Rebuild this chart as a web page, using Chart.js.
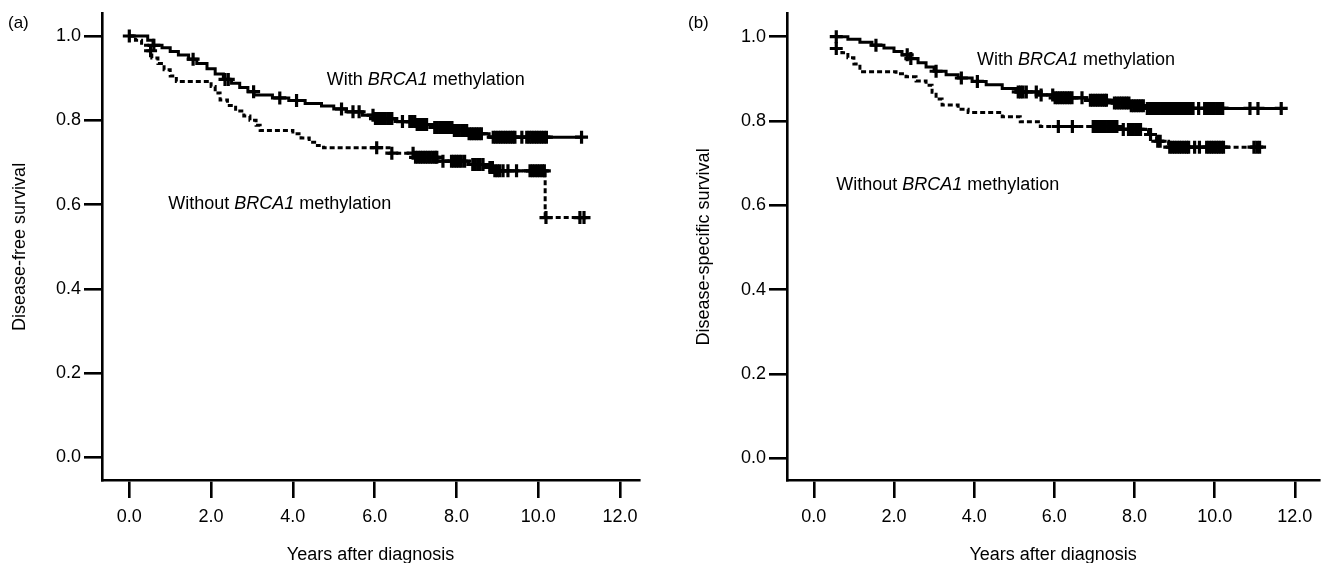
<!DOCTYPE html>
<html>
<head>
<meta charset="utf-8">
<script src="https://cdn.jsdelivr.net/npm/chart.js@4/dist/chart.umd.min.js"></script>
<style>
  html, body { margin: 0; padding: 0; background: #fff; }
  #wrap { position: relative; width: 1329px; height: 563px; overflow: hidden; background: #fff; }
  canvas { position: absolute; top: 0; }
  #ca { left: 0; }
  #cb { left: 664px; }
</style>
</head>
<body>
<div id="wrap">
  <canvas id="ca" width="664" height="563"></canvas>
  <canvas id="cb" width="665" height="563"></canvas>
</div>
<script>
// ---------- axis ticks ----------
const xTicks = [0, 2, 4, 6, 8, 10, 12];
const xTickLabels = ['0.0', '2.0', '4.0', '6.0', '8.0', '10.0', '12.0'];
const yTicks = [0, 0.2, 0.4, 0.6, 0.8, 1.0];
const yTickLabels = ['0.0', '0.2', '0.4', '0.6', '0.8', '1.0'];

// ---------- panel (a): disease-free survival ----------
const aWithTime = [0, 0.45, 0.58, 0.8, 1.0, 1.2, 1.45, 1.65, 1.9, 2.1, 2.3, 2.5, 2.7, 2.9, 3.05, 3.5, 3.9, 4.3, 4.7, 5.0, 5.3, 5.7, 6.0, 6.5, 7.0, 7.45, 7.9, 8.3, 8.8, 11.06];
const aWithSurv = [1.0, 0.99, 0.978, 0.972, 0.963, 0.955, 0.945, 0.935, 0.922, 0.91, 0.897, 0.888, 0.878, 0.868, 0.86, 0.853, 0.847, 0.84, 0.834, 0.827, 0.82, 0.812, 0.804, 0.797, 0.79, 0.783, 0.776, 0.768, 0.76, 0.76];
const aWithoutTime = [0, 0.15, 0.3, 0.45, 0.55, 0.7, 0.85, 1.0, 1.15, 2.0, 2.1, 2.22, 2.4, 2.6, 2.8, 2.95, 3.1, 3.2, 4.0, 4.2, 4.4, 4.6, 4.75, 6.35, 6.95, 7.55, 8.3, 8.75, 8.9, 10.17, 11.12];
const aWithoutSurv = [1.0, 0.99, 0.978, 0.965, 0.948, 0.935, 0.92, 0.905, 0.892, 0.88, 0.865, 0.848, 0.835, 0.822, 0.81, 0.8, 0.788, 0.776, 0.768, 0.758, 0.748, 0.74, 0.735, 0.722, 0.712, 0.703, 0.695, 0.688, 0.68, 0.569, 0.569];
const aWithCensor = [0, 0.6, 1.56, 2.34, 2.42, 3.04, 3.68, 4.09, 5.19, 5.47, 5.62, 5.96, 6.02, 6.08, 6.14, 6.2, 6.26, 6.32, 6.38, 6.42, 6.68, 6.86, 6.92, 6.98, 7.04, 7.1, 7.16, 7.22, 7.27, 7.47, 7.53, 7.59, 7.65, 7.71, 7.77, 7.83, 7.89, 7.95, 8.01, 8.07, 8.13, 8.19, 8.25, 8.31, 8.37, 8.43, 8.49, 8.55, 8.61, 8.9, 8.96, 9.02, 9.08, 9.14, 9.2, 9.26, 9.32, 9.38, 9.43, 9.6, 9.72, 9.78, 9.84, 9.9, 9.96, 10.02, 10.08, 10.14, 10.2, 11.06];
const aWithoutCensor = [0.52, 6.05, 6.42, 6.94, 7.0, 7.06, 7.12, 7.18, 7.24, 7.3, 7.36, 7.42, 7.48, 7.52, 7.67, 7.88, 7.94, 8.0, 8.06, 8.12, 8.2, 8.4, 8.46, 8.52, 8.58, 8.65, 8.82, 8.88, 8.94, 9.0, 9.06, 9.14, 9.26, 9.47, 9.8, 9.86, 9.92, 9.98, 10.04, 10.1, 10.15, 10.19, 11.02, 11.12];

// ---------- panel (b): disease-specific survival ----------
const bWithTime = [0.56, 0.85, 1.15, 1.45, 1.75, 2.0, 2.2, 2.4, 2.6, 2.8, 3.0, 3.3, 3.6, 3.95, 4.3, 4.7, 5.05, 5.6, 6.0, 6.8, 7.45, 7.9, 8.3, 11.66];
const bWithSurv = [1.0, 0.994, 0.987, 0.98, 0.973, 0.965, 0.957, 0.948, 0.938, 0.928, 0.918, 0.91, 0.902, 0.894, 0.886, 0.877, 0.869, 0.862, 0.855, 0.849, 0.843, 0.836, 0.83, 0.83];
const bWithoutTime = [0.56, 0.7, 0.85, 1.0, 1.15, 2.05, 2.3, 2.55, 2.8, 2.95, 3.05, 3.2, 3.6, 3.85, 4.7, 5.15, 5.65, 7.7, 8.35, 8.55, 8.85, 11.12];
const bWithoutSurv = [0.972, 0.962, 0.95, 0.935, 0.917, 0.912, 0.905, 0.895, 0.885, 0.868, 0.852, 0.838, 0.828, 0.82, 0.81, 0.798, 0.787, 0.78, 0.768, 0.752, 0.738, 0.738];
const bWithCensor = [0.56, 1.55, 2.33, 2.42, 3.05, 3.68, 4.08, 5.1, 5.16, 5.22, 5.3, 5.55, 5.67, 5.96, 6.02, 6.08, 6.14, 6.2, 6.26, 6.32, 6.38, 6.44, 6.69, 6.9, 6.96, 7.02, 7.08, 7.14, 7.2, 7.26, 7.3, 7.5, 7.56, 7.62, 7.68, 7.74, 7.8, 7.86, 7.92, 7.98, 8.04, 8.1, 8.16, 8.22, 8.32, 8.38, 8.44, 8.5, 8.56, 8.62, 8.68, 8.74, 8.8, 8.86, 8.92, 8.98, 9.04, 9.1, 9.16, 9.22, 9.28, 9.34, 9.4, 9.46, 9.6, 9.75, 9.81, 9.87, 9.93, 9.99, 10.05, 10.11, 10.17, 10.2, 10.88, 11.08, 11.66];
const bWithoutCensor = [0.56, 6.1, 6.45, 6.97, 7.03, 7.09, 7.15, 7.21, 7.27, 7.33, 7.39, 7.45, 7.51, 7.56, 7.72, 7.85, 7.91, 7.97, 8.03, 8.09, 8.15, 8.4, 8.58, 8.64, 8.88, 8.94, 9.0, 9.06, 9.12, 9.18, 9.24, 9.3, 9.35, 9.5, 9.62, 9.8, 9.86, 9.92, 9.98, 10.04, 10.1, 10.16, 10.22, 10.98, 11.05, 11.12];

// ---------- helpers ----------
const FONT = '"Liberation Sans", Arial, Helvetica, sans-serif';

function stepPoints(times, surv) {
  return times.map((t, i) => ({ x: t, y: surv[i] }));
}
function survAt(times, surv, t) {
  let v = surv[0];
  for (let i = 0; i < times.length; i++) {
    if (times[i] <= t + 1e-9) v = surv[i]; else break;
  }
  return v;
}
function censorPoints(cens, times, surv) {
  return cens.map(t => ({ x: t, y: survAt(times, surv, t) }));
}

const annotPlugin = {
  id: 'annot',
  afterDraw(chart, args, opts) {
    const ctx = chart.ctx;
    const xs = chart.scales.x, ys = chart.scales.y;
    ctx.save();
    ctx.fillStyle = '#000';
    ctx.textBaseline = 'alphabetic';
    ctx.textAlign = 'left';
    for (const a of opts.items) {
      let x = xs.getPixelForValue(a.x);
      const y = ys.getPixelForValue(a.y);
      for (const p of a.parts) {
        ctx.font = (p.italic ? 'italic ' : '') + '18px ' + FONT;
        ctx.fillText(p.text, x, y);
        x += ctx.measureText(p.text).width;
      }
    }
    ctx.font = '17px ' + FONT;
    ctx.fillText(opts.label, opts.labelX, opts.labelY);
    ctx.restore();
  }
};

function labelParts(prefix) {
  return [
    { text: prefix + ' ', italic: false },
    { text: 'BRCA1', italic: true },
    { text: ' methylation', italic: false }
  ];
}

function makePanel(canvasId, cfg) {
  const datasets = [
    { data: stepPoints(cfg.withT, cfg.withS), showLine: true, stepped: 'before', borderColor: '#000', borderWidth: 3, pointRadius: 0, fill: false },
    { data: stepPoints(cfg.withoutT, cfg.withoutS), showLine: true, stepped: 'before', borderColor: '#000', borderWidth: 3, borderDash: [5, 3], pointRadius: 0, fill: false },
    { data: censorPoints(cfg.withC, cfg.withT, cfg.withS), showLine: false, pointStyle: 'cross', pointRadius: 6.5, pointBorderWidth: 3.2, pointBorderColor: '#000', pointBackgroundColor: '#000' },
    { data: censorPoints(cfg.withoutC, cfg.withoutT, cfg.withoutS), showLine: false, pointStyle: 'cross', pointRadius: 6.5, pointBorderWidth: 3.2, pointBorderColor: '#000', pointBackgroundColor: '#000' }
  ];
  return new Chart(document.getElementById(canvasId), {
    type: 'scatter',
    data: { datasets },
    plugins: [annotPlugin],
    options: {
      responsive: false,
      animation: false,
      devicePixelRatio: 1,
      events: [],
      layout: { padding: { left: 0, top: 12, right: cfg.rightPad, bottom: 0 } },
      plugins: {
        legend: { display: false },
        tooltip: { enabled: false },
        annot: { items: cfg.annots, label: cfg.label, labelX: cfg.labelX, labelY: 28 }
      },
      scales: {
        x: {
          type: 'linear',
          min: cfg.xMin, max: cfg.xMax,
          afterBuildTicks: s => { s.ticks = xTicks.map(v => ({ value: v })); },
          afterFit: s => { s.height = 83; },
          border: { display: true, color: '#000', width: 2.6 },
          grid: { display: true, drawOnChartArea: false, drawTicks: true, tickLength: 18, tickWidth: 2.6, tickColor: '#000', lineWidth: 2.6, color: '#000' },
          ticks: { color: '#000', font: { family: FONT, size: 18 }, padding: 8, maxRotation: 0, callback: (v, i) => xTickLabels[i] },
          title: { display: true, text: 'Years after diagnosis', color: '#000', font: { family: FONT, size: 18 }, padding: { top: 0, bottom: -3 } }
        },
        y: {
          type: 'linear',
          min: cfg.yMin, max: cfg.yMax,
          afterBuildTicks: s => { s.ticks = yTicks.map(v => ({ value: v })); },
          afterFit: s => { s.width = cfg.yWidth; },
          border: { display: true, color: '#000', width: 2.6 },
          grid: { display: true, drawOnChartArea: false, drawTicks: true, tickLength: 18, tickWidth: 2.6, tickColor: '#000', lineWidth: 2.6, color: '#000' },
          ticks: { color: '#000', font: { family: FONT, size: 18 }, padding: 3, callback: (v, i) => yTickLabels[i] },
          title: { display: true, text: cfg.yTitle, color: '#000', font: { family: FONT, size: 18 }, padding: { top: cfg.yTitlePad, bottom: 0 } }
        }
      }
    }
  });
}

makePanel('ca', {
  withT: aWithTime, withS: aWithSurv, withoutT: aWithoutTime, withoutS: aWithoutSurv,
  withC: aWithCensor, withoutC: aWithoutCensor,
  xMin: -0.668, xMax: 12.465, yMin: -0.0537, yMax: 1.0527,
  yWidth: 102, rightPad: 25, yTitle: 'Disease-free survival', yTitlePad: 9,
  label: '(a)', labelX: 8,
  annots: [
    { x: 4.83, y: 0.883, parts: labelParts('With') },
    { x: 0.95, y: 0.589, parts: labelParts('Without') }
  ]
});

makePanel('cb', {
  withT: bWithTime, withS: bWithSurv, withoutT: bWithoutTime, withoutS: bWithoutSurv,
  withC: bWithCensor, withoutC: bWithoutCensor,
  xMin: -0.669, xMax: 12.61, yMin: -0.0513, yMax: 1.0543,
  yWidth: 123, rightPad: 0, yTitle: 'Disease-specific survival', yTitlePad: 29,
  label: '(b)', labelX: 24,
  annots: [
    { x: 4.07, y: 0.933, parts: labelParts('With') },
    { x: 0.56, y: 0.636, parts: labelParts('Without') }
  ]
});
</script>
</body>
</html>
